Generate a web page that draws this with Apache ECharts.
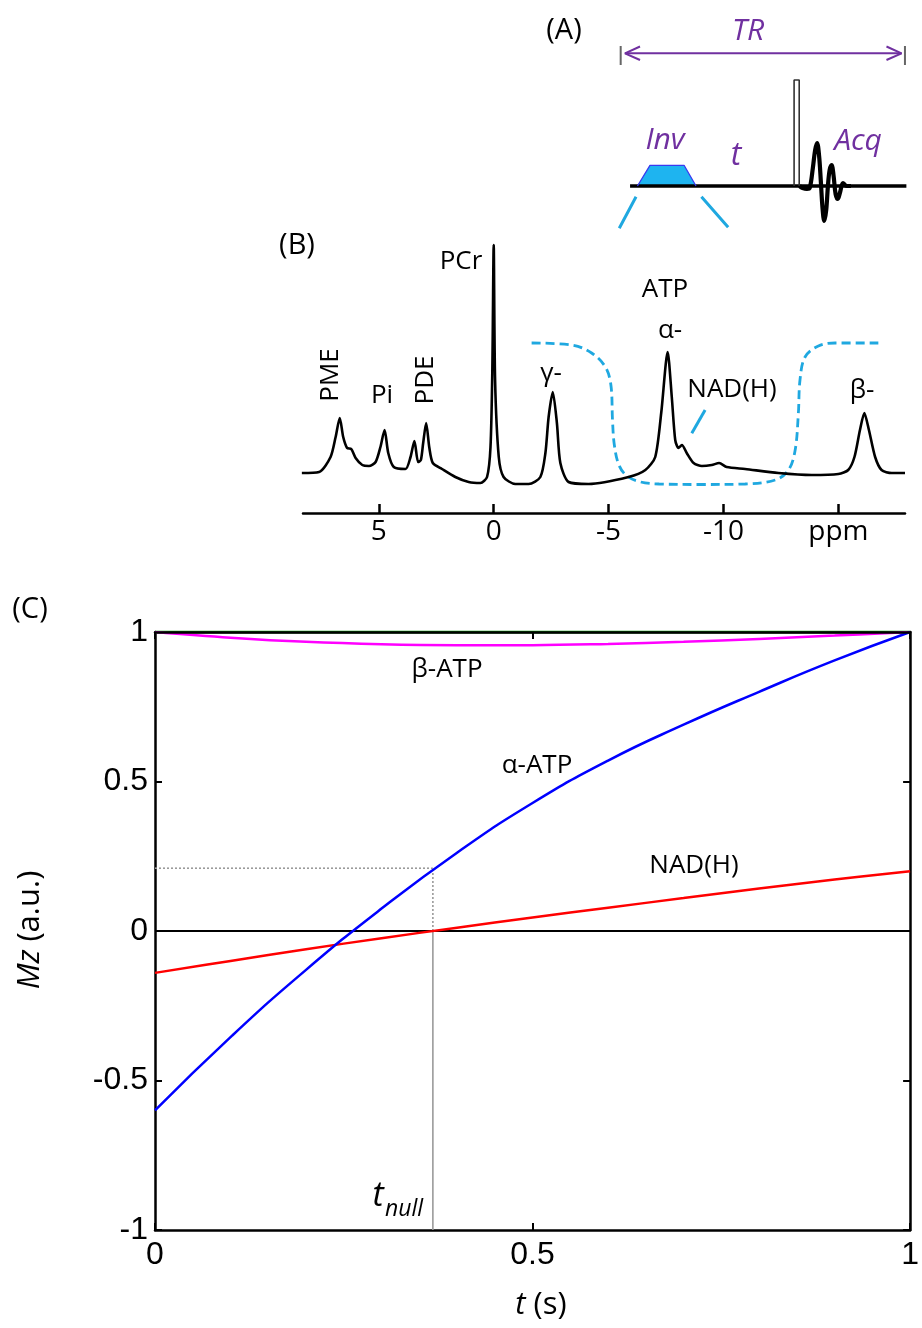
<!DOCTYPE html>
<html><head><meta charset="utf-8">
<script src="https://cdn.jsdelivr.net/npm/echarts@6/dist/echarts.min.js"></script>
<style>html,body{margin:0;padding:0;background:#fff}#c{width:922px;height:1328px}</style>
</head><body><div id="c"></div>
<script>
// ---------- Panel A: pulse sequence (time units across TR, amplitude units) ----------
const baseT = [3.3, 100.5];
const baseA = [0, 0];
const invT = [5.9, 10.3, 22.3, 26.5];
const invA = [0, 20.7, 20.7, 0];
const rfT = [61.0, 61.0, 62.8, 62.8];
const rfA = [0, 106, 106, 0];
const fidT = [62.9, 64.0, 65.5, 66.5, 67.6, 68.4, 69.1, 69.8, 70.4, 71.0, 71.6, 72.3, 72.9, 73.5, 74.2, 74.9, 75.6, 76.4, 77.2, 78.2, 79.5, 81];
const fidA = [0, -2, -3, -2, 18, 36, 43, 30, 5, -22, -35, -24, 0, 16, 21, 10, -8, -13, -6, 3, 0, 0];
const trT = [1.5, 98.8];
const trA = [132.7, 132.7];
const chevT = [6.8, 1.5, 6.8, '-', 93.5, 98.8, 93.5];
const chevA = [139.5, 132.7, 126, '-', 139.5, 132.7, 126];
const barT = [0, 0, '-', 100, 100];
const barA = [140, 121, '-', 140, 121];
const cyanT = [5.4, -0.5, '-', 28.4, 37.8];
const cyanA = [-10.7, -42.3, '-', -10.7, -41.3];

// ---------- Panel B: 31P spectrum (ppm, intensity a.u.) ----------
const specPpm = [8.35, 7.6, 7.1, 6.88, 6.7, 6.55, 6.38, 6.2, 6.01, 5.72, 5.43, 5.14, 4.93, 4.75, 4.59, 4.35, 3.84, 3.62, 3.45, 3.29, 3.17, 3.07, 2.94, 2.8, 2.65, 2.25, 1.67, 1.09, 0.58, 0.29, 0.14, 0.06, 0, -0.06, -0.22, -0.43, -0.94, -1.52, -2.03, -2.25, -2.39, -2.57, -2.75, -2.9, -3.26, -4.13, -5.87, -6.6, -7.03, -7.29, -7.57, -7.75, -7.9, -8.04, -8.19, -8.4, -8.7, -9.06, -9.49, -9.81, -10.14, -10.94, -12.39, -13.84, -15.0, -15.43, -15.7, -15.94, -16.13, -16.33, -16.6, -16.88, -17.32, -17.9];
const specInt = [7, 8, 23, 43, 62, 43, 32, 31, 22, 15, 14, 18, 33, 50, 27, 13, 11, 23, 39, 18, 20, 37, 57, 32, 17, 11, 3, -2, -3, 3, 33, 110, 235, 100, 23, 3, -4, -4, 3, 27, 63, 88, 57, 17, -2, -4, 3, 10, 23, 67, 128, 83, 40, 32, 35, 27, 17, 14, 15, 17, 13, 11, 7, 5, 6, 10, 23, 50, 67, 50, 23, 10, 7, 7];
const profPpm = [-1.65, -3.4, -4.26, -4.86, -5.1, -5.17, -5.25, -5.45, -5.8, -6.4, -7.2, -9.0, -10.94, -12.25, -12.83, -13.12, -13.26, -13.33, -13.55, -14.13, -14.86, -16.74];
const profInt = [137, 135, 127, 113, 95, 60, 35, 15, 4, -2, -4, -4.5, -4, 0, 10, 30, 67, 100, 123, 134, 137, 137];
const ptrPpm = [-8.62, -9.2];
const ptrInt = [46.7, 70];
const ppmTicks = [5, 0, -5, -10, -15];

// ---------- Panel C: Mz vs t ----------
const tAlpha = [0, 0.1, 0.2, 0.3, 0.4, 0.5, 0.6, 0.7, 0.8, 0.9, 1.0];
const mzAlpha = [-0.60, -0.355, -0.13, 0.075, 0.262, 0.428, 0.57, 0.69, 0.80, 0.905, 1.0];
const tNad = [0, 0.1, 0.2, 0.3, 0.4, 0.5, 0.6, 0.7, 0.8, 0.9, 1.0];
const mzNad = [-0.14, -0.1, -0.061, -0.024, 0.011, 0.045, 0.078, 0.11, 0.142, 0.172, 0.2];
const tBeta = [0, 0.1, 0.2, 0.3, 0.4, 0.5, 0.6, 0.7, 0.8, 0.9, 1.0];
const mzBeta = [1.0, 0.981, 0.967, 0.959, 0.956, 0.956, 0.96, 0.967, 0.977, 0.988, 1.0];
const tPcr = [0, 1];
const mzPcr = [1, 1];
const tNull = 0.368;
const mzNull = 0.21;

const zip = (a, b) => a.map((v, i) => (v === '-' ? '-' : [v, b[i]]));
const LF = 'Open Sans, Liberation Sans, sans-serif';
const AF = 'Liberation Sans, Arial, sans-serif';
const PURPLE = '#7030A0';
const CYAN = '#1FA8E0';

function ln(name, gi, data, color, width, extra) {
  return Object.assign({
    name, type: 'line', xAxisIndex: gi.x, yAxisIndex: gi.y, data,
    symbol: 'none', silent: true, animation: false,
    lineStyle: { color, width }
  }, extra || {});
}
const GA = { x: 0, y: 0 }, GB = { x: 1, y: 1 }, GC = { x: 2, y: 2 };

function txt(text, x, y, size, opts) {
  opts = opts || {};
  return {
    type: 'text', x, y, rotation: opts.rot || 0, z: 100,
    style: {
      text, fill: opts.color || '#000',
      font: (opts.italic ? 'italic ' : '') + size + 'px ' + (opts.family || LF),
      align: opts.align || 'center', verticalAlign: 'middle',
      rich: opts.rich
    }
  };
}

const chart = echarts.init(document.getElementById('c'), null, { renderer: 'canvas' });
const hiddenAxis = (gi, min, max, inverse) => ({ gridIndex: gi, type: 'value', min, max, show: false, inverse: !!inverse });

const cAxisX = (pos, showLabel, z) => ({
  gridIndex: 2, type: 'value', position: pos, min: 0, max: 1, interval: 0.5, z,
  axisLine: { onZero: false, lineStyle: { color: '#000', width: 2.5 } },
  axisTick: { inside: true, length: 7, lineStyle: { color: '#000', width: 2 } },
  axisLabel: { show: showLabel, color: '#000', fontSize: 32, fontFamily: AF, margin: 9 },
  splitLine: { show: false }
});
const cAxisY = (pos, showLabel) => ({
  gridIndex: 2, type: 'value', position: pos, min: -1, max: 1, interval: 0.5,
  axisLine: { onZero: false, lineStyle: { color: '#000', width: 2.5 } },
  axisTick: { inside: true, length: 7, lineStyle: { color: '#000', width: 2 } },
  axisLabel: { show: showLabel, color: '#000', fontSize: 32, fontFamily: AF, margin: 7 },
  splitLine: { show: false }
});

const option = {
  backgroundColor: '#fff',
  animation: false,
  grid: [
    { left: 615, top: 20, width: 292.8, height: 220 },
    { left: 303, top: 240, width: 602, height: 273 },
    { left: 155, top: 632, width: 759, height: 598 }
  ],
  xAxis: [
    hiddenAxis(0, -2, 101),
    {
      gridIndex: 1, type: 'value', inverse: true, min: -17.9, max: 8.3,
      axisLine: { onZero: false, lineStyle: { color: '#000', width: 2.5 } },
      axisTick: { inside: true, length: 9, customValues: ppmTicks, lineStyle: { color: '#000', width: 2.5 } },
      axisLabel: { customValues: ppmTicks, formatter: v => (v === -15 ? 'ppm' : String(v)), color: '#000', fontSize: 28, fontFamily: LF, margin: 5 },
      splitLine: { show: false }
    },
    cAxisX('bottom', true, 1),
    cAxisX('top', false, 5)
  ],
  yAxis: [
    hiddenAxis(0, -54, 166),
    hiddenAxis(1, -33, 240),
    cAxisY('left', true),
    cAxisY('right', false)
  ],
  series: [
    // Panel A
    ln('baseline', GA, zip(baseT, baseA), '#000', 3.5),
    ln('inv', GA, zip(invT, invA), '#3a3af0', 1.3, { areaStyle: { color: '#1EB4F0', opacity: 1 }, z: 3 }),
    ln('rf', GA, zip(rfT, rfA), '#333', 1.6, { areaStyle: { color: '#fff', opacity: 1 }, z: 3 }),
    ln('fid', GA, zip(fidT, fidA), '#000', 4.2, { smooth: 0.35, z: 4 }),
    ln('tr', GA, zip(trT, trA), PURPLE, 2),
    ln('trHeads', GA, zip(chevT, chevA), PURPLE, 2),
    ln('trBars', GA, zip(barT, barA), '#666', 2),
    ln('zoomLines', GA, zip(cyanT, cyanA), CYAN, 3),
    // Panel B
    ln('profile', GB, zip(profPpm, profInt), CYAN, 2.8, { smooth: 0.35, lineStyle: { color: CYAN, width: 2.8, type: [9, 5] } }),
    ln('spectrum', GB, zip(specPpm, specInt), '#000', 2.6, { smooth: 0.25, z: 4 }),
    ln('nadPointer', GB, zip(ptrPpm, ptrInt), CYAN, 3),
    // Panel C
    ln('PCr', GC, zip(tPcr, mzPcr), '#00a000', 3, { z: 1 }),
    ln('zero', GC, [[0, 0], [1, 0]], '#000', 2),
    ln('nullV', GC, [[tNull, -1], [tNull, 0]], '#9a9a9a', 1.6),
    ln('nullV2', GC, [[tNull, 0], [tNull, mzNull]], '#9a9a9a', 1.6, { lineStyle: { color: '#9a9a9a', width: 1.6, type: [2, 2] } }),
    ln('nullH', GC, [[0, mzNull], [tNull, mzNull]], '#9a9a9a', 1.6, { lineStyle: { color: '#9a9a9a', width: 1.6, type: [2, 2] } }),
    ln('beta-ATP', GC, zip(tBeta, mzBeta), '#ff00ff', 2.5, { smooth: 0.4 }),
    ln('NAD(H)', GC, zip(tNad, mzNad), '#ff0000', 2.5, { smooth: 0.4 }),
    ln('alpha-ATP', GC, zip(tAlpha, mzAlpha), '#0000ff', 2.5, { smooth: 0.5 })
  ],
  graphic: [
    // Panel A texts
    txt('(A)', 564, 31, 29),
    txt('TR', 748, 31, 30, { italic: true, color: PURPLE }),
    txt('Inv', 665, 140, 30, { italic: true, color: PURPLE }),
    txt('t', 736, 156, 32, { italic: true, color: PURPLE }),
    txt('Acq', 858, 141, 30, { italic: true, color: PURPLE }),
    // Panel B texts
    txt('(B)', 297, 246, 29),
    txt('PCr', 461, 262, 26),
    txt('ATP', 665, 290, 26),
    txt('α-', 670, 331, 26),
    txt('γ-', 551, 374, 26),
    txt('NAD(H)', 732, 390, 26),
    txt('β-', 862, 391, 26),
    txt('Pi', 382, 396, 26),
    txt('PME', 331, 375, 26, { rot: Math.PI / 2 }),
    txt('PDE', 426, 380, 26, { rot: Math.PI / 2 }),
    // Panel C texts
    txt('(C)', 30, 610, 29),
    txt('β-ATP', 447, 670, 26),
    txt('α-ATP', 537, 766, 26),
    txt('NAD(H)', 694, 866, 26),
    txt('t', 378, 1196, 34, { italic: true }),
    txt('null', 385, 1209, 23, { italic: true, align: 'left' }),
    txt('{i|t} (s)', 541, 1305, 31, { rich: { i: { fontStyle: 'italic', fontSize: 31, fontFamily: LF } } }),
    txt('{i|Mz} (a.u.)', 30, 930, 31, { rot: Math.PI / 2, rich: { i: { fontStyle: 'italic', fontSize: 31, fontFamily: LF } } })
  ]
};
chart.setOption(option);
</script>
</body></html>
